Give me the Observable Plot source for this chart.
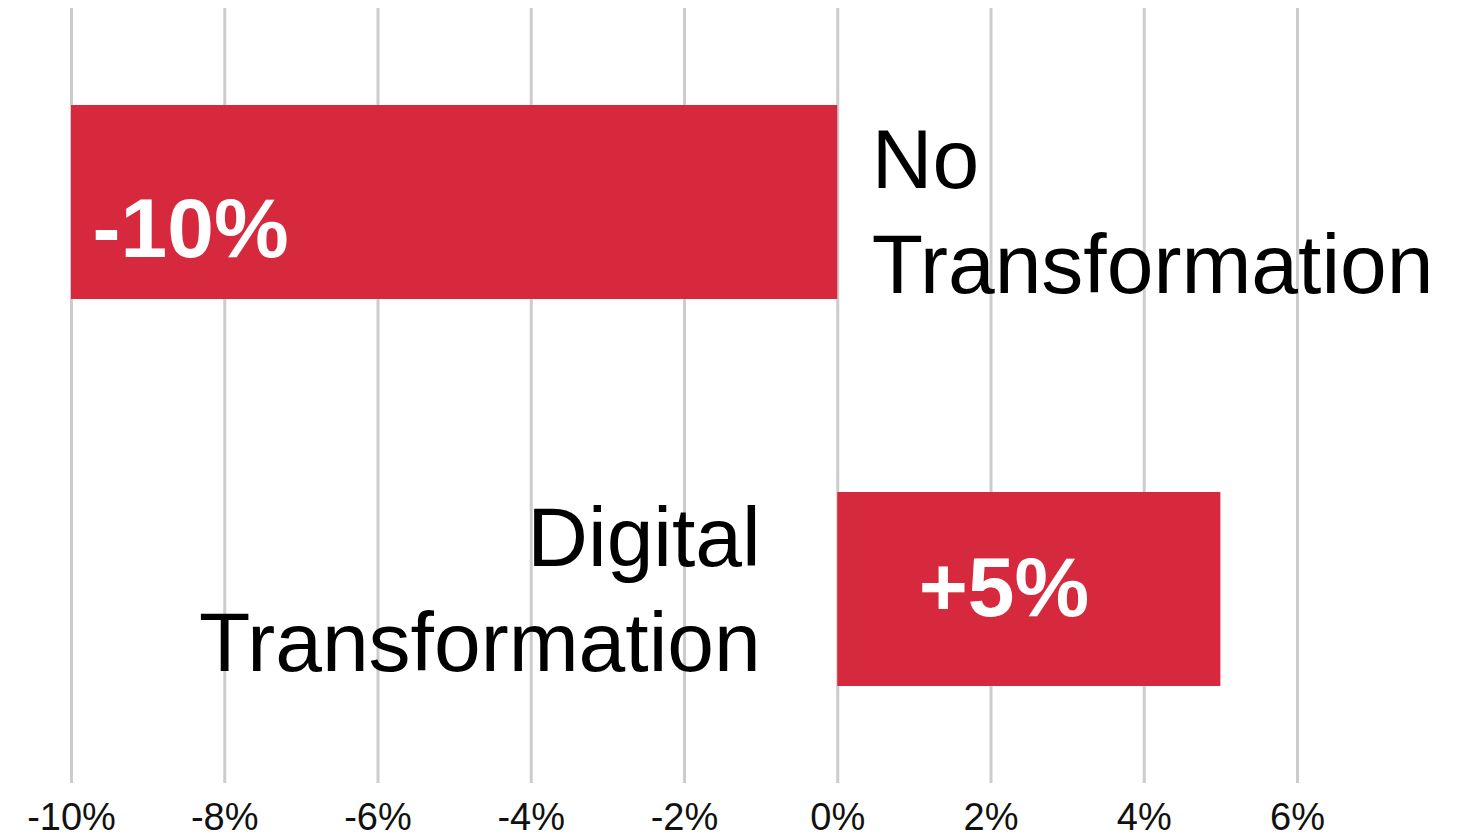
<!DOCTYPE html>
<html>
<head>
<meta charset="utf-8">
<script src="https://cdn.jsdelivr.net/npm/d3@7"></script>
<script src="https://cdn.jsdelivr.net/npm/@observablehq/plot@0.6"></script>
<style>
  html, body { margin: 0; padding: 0; background: #fff; }
  #chart svg { display: block; }
</style>
</head>
<body>
<div id="chart"></div>
<script>
const categories = ["No Transformation", "Digital Transformation"];
const categoryLabels = ["No\nTransformation", "Digital\nTransformation"];
const values = [-10, 5];
const valueLabels = ["-10%", "+5%"];
const xTicks = [-10, -8, -6, -4, -2, 0, 2, 4, 6];
const xTickLabels = ["-10%", "-8%", "-6%", "-4%", "-2%", "0%", "2%", "4%", "6%"];

const table = categories.map((c, i) => ({
  category: c, label: categoryLabels[i], value: values[i], valueLabel: valueLabels[i]
}));

const font = "'Liberation Sans', Arial, sans-serif";
const red = "#d7293d";

const chart = Plot.plot({
  width: 1465,
  height: 839,
  marginLeft: 71,
  marginRight: 168,
  marginTop: 8,
  marginBottom: 56,
  style: { fontFamily: font, color: "#111", background: "#fff" },
  x: { domain: [-10, 6], ticks: xTicks, tickFormat: (d) => xTickLabels[xTicks.indexOf(d)] },
  y: { domain: categories, paddingInner: 0.5, paddingOuter: 0.251, axis: null },
  marks: [
    Plot.ruleX(xTicks, { stroke: "#cccccc", strokeWidth: 3 }),
    Plot.barX(table, { x1: 0, x2: "value", y: "category", fill: red }),
    Plot.axisX({ ticks: xTicks, tickSize: 0, tickPadding: 20, fontSize: 38, tickFormat: (d) => xTickLabels[xTicks.indexOf(d)], label: null }),
    // value labels
    Plot.text(table.filter((d) => d.value < 0), {
      x: "value", y: "category", text: "valueLabel", textAnchor: "start",
      dx: 21, dy: 28, fill: "white", fontWeight: "bold", fontSize: 84
    }),
    Plot.text(table.filter((d) => d.value > 0), {
      x: 0, y: "category", text: "valueLabel", textAnchor: "start",
      dx: 81, dy: 0, fill: "white", fontWeight: "bold", fontSize: 84
    }),
    // category labels
    Plot.text(table.filter((d) => d.value < 0), {
      x: 0, y: "category", text: "label", textAnchor: "start", lineAnchor: "middle",
      lineHeight: 1.25, dx: 34, dy: 4, fill: "black", fontSize: 84
    }),
    Plot.text(table.filter((d) => d.value > 0), {
      x: 0, y: "category", text: "label", textAnchor: "end", lineAnchor: "middle",
      lineHeight: 1.25, dx: -77, dy: -5, fill: "black", fontSize: 84
    })
  ]
});

document.getElementById("chart").appendChild(chart);
</script>
</body>
</html>
